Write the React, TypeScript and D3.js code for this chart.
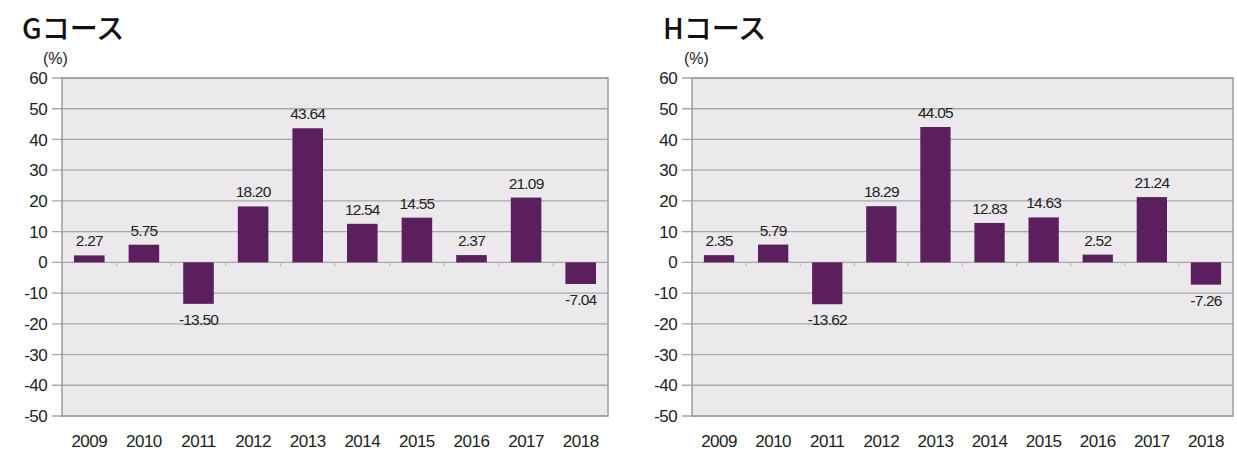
import React from 'react';
import * as d3 from 'd3';

const years = ['2009', '2010', '2011', '2012', '2013', '2014', '2015', '2016', '2017', '2018'];
const gValues = [2.27, 5.75, -13.5, 18.2, 43.64, 12.54, 14.55, 2.37, 21.09, -7.04];
const hValues = [2.35, 5.79, -13.62, 18.29, 44.05, 12.83, 14.63, 2.52, 21.24, -7.26];
const yTicks = [60, 50, 40, 30, 20, 10, 0, -10, -20, -30, -40, -50];

const FONT = '"Liberation Sans", Arial, sans-serif';
const BAR = '#5b1f5e';

type ChartProps = { left: number; right: number; titleX: number; title: string; values: number[] };

const Chart = ({ left, right, titleX, title, values }: ChartProps) => {
  const top = 78;
  const bottom = 416;
  const x = d3.scaleBand().domain(years).range([left, right]).paddingInner(0.44).paddingOuter(0.22);
  const step = x.step();
  const y = d3.scaleLinear().domain([-50, 60]).range([bottom, top]);

  return (
    <g>
      <text x={titleX} y={39} fontFamily='"Noto Sans CJK JP", sans-serif' fontWeight={500} fontSize={28} fill="#111">
        {title}
      </text>
      <text x={titleX + 21} y={64} fontFamily={FONT} fontSize={16} fill="#222">(%)</text>
      <rect x={left} y={top} width={right - left} height={bottom - top} fill="#ece9ed" />
      {yTicks.map(t => (
        <g key={t}>
          <line x1={left - 10} x2={right} y1={y(t)} y2={y(t)} stroke="#a9a7aa" strokeWidth={1.3} />
          <text x={left - 15} y={y(t)} dy="0.36em" textAnchor="end" fontFamily={FONT} fontSize={17}
            letterSpacing={-0.6} fill="#222">
            {t}
          </text>
        </g>
      ))}
      {years.slice(1).map(yr => (
        <line key={yr} x1={x(yr)! - (step - x.bandwidth()) / 2} x2={x(yr)! - (step - x.bandwidth()) / 2}
          y1={y(0)} y2={y(0) + 4} stroke="#b5b3b6" strokeWidth={1} />
      ))}
      <rect x={left} y={top} width={right - left} height={bottom - top} fill="none" stroke="#9d9b9e" strokeWidth={1.5} />
      {values.map((v, i) => {
        const cx = x(years[i])! + x.bandwidth() / 2;
        return (
          <g key={years[i]}>
            <rect x={x(years[i])} y={y(Math.max(0, v))} width={x.bandwidth()}
              height={Math.abs(y(v) - y(0))} fill={BAR} />
            <text x={cx} y={v >= 0 ? y(v) - 9 : y(v) + 21} textAnchor="middle" fontFamily={FONT}
              fontSize={15.5} letterSpacing={-0.8} fill="#222">
              {v.toFixed(2)}
            </text>
          </g>
        );
      })}
      {years.map(yr => (
        <text key={yr} x={x(yr)! + x.bandwidth() / 2} y={447} textAnchor="middle" fontFamily={FONT}
          fontSize={17} letterSpacing={-0.5} fill="#222">
          {yr}
        </text>
      ))}
    </g>
  );
};

export default function App() {
  return (
    <svg width={1237} height={450} style={{ position: 'absolute', left: 0, top: 0, background: '#fff' }}>
      <Chart left={62} right={608} titleX={22} title="Gコース" values={gValues} />
      <Chart left={692} right={1233} titleX={663} title="Hコース" values={hValues} />
    </svg>
  );
}
